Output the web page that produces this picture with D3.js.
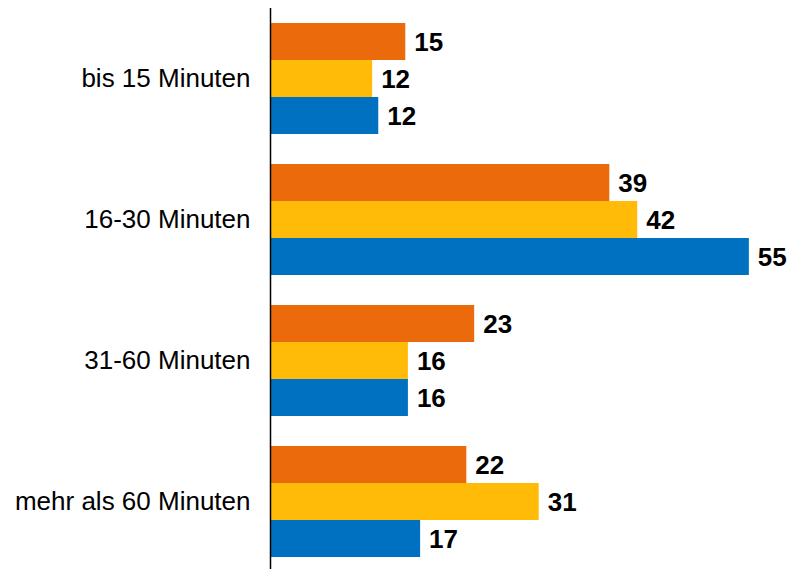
<!DOCTYPE html>
<html><head><meta charset="utf-8">
<script src="https://cdn.jsdelivr.net/npm/d3@7"></script>
<style>body{margin:0;background:#fff}svg{display:block}</style>
</head><body>
<script>
const categories = ["bis 15 Minuten","16-30 Minuten","31-60 Minuten","mehr als 60 Minuten"];
const seriesNames = ["Serie A","Serie B","Serie C"];
const seriesA = [15.4, 38.8, 23.3, 22.4];
const seriesB = [11.6, 42.0, 15.7, 30.7];
const seriesC = [12.3, 54.8, 15.7, 17.1];
const colors = ["#EA6A0C","#FFBB07","#0070C0"];

const W = 790, H = 569;
const svg = d3.select("body").append("svg").attr("width", W).attr("height", H);
const x = d3.scaleLinear().domain([0, 55]).range([271, 271 + 55 * 8.72]);
const y = d3.scaleBand().domain(categories).range([8, 572]).paddingInner(0.2128).paddingOuter(0.1064);
const yi = d3.scaleBand().domain(seriesNames).range([0, y.bandwidth()]);
const allSeries = [seriesA, seriesB, seriesC];

const g = svg.append("g").selectAll("g").data(categories).join("g")
  .attr("transform", d => `translate(0,${y(d)})`);

g.each(function(cat, ci) {
  const grp = d3.select(this);
  seriesNames.forEach((s, si) => {
    const v = allSeries[si][ci];
    grp.append("rect").attr("x", x(0)).attr("y", yi(s))
      .attr("width", x(v) - x(0)).attr("height", yi.bandwidth())
      .attr("fill", colors[si]);
    grp.append("text").attr("x", x(v) + 9).attr("y", yi(s) + yi.bandwidth() / 2)
      .attr("dy", "0.36em").attr("font-family", "Liberation Sans, Arial, sans-serif")
      .attr("font-size", 26).attr("font-weight", "bold").attr("fill", "#000")
      .text(d3.format(".0f")(v));
  });
});

const axis = svg.append("g").attr("transform", `translate(${x(0) - 0.5},0)`)
  .call(d3.axisLeft(y).tickSize(0).tickPadding(20));
axis.select(".domain").remove();
axis.append("line").attr("x1", 0).attr("x2", 0).attr("y1", 8).attr("y2", 569)
  .attr("stroke", "#000").attr("stroke-width", 1.5);
axis.selectAll("text").attr("font-family", "Liberation Sans, Arial, sans-serif")
  .attr("font-size", 26).attr("fill", "#000");
</script>
</body></html>
